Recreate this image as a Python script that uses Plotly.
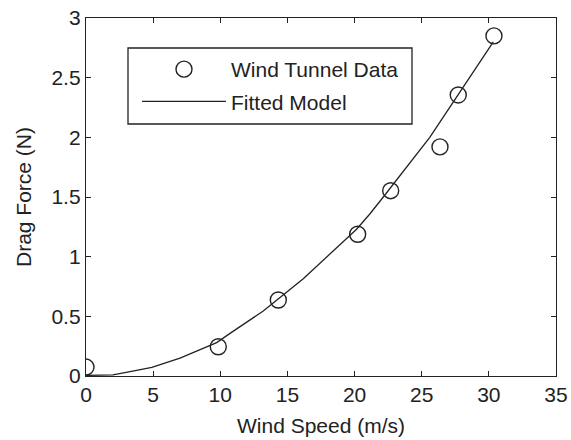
import plotly.graph_objects as go

speed = [0.0, 9.85, 14.32, 20.23, 22.69, 26.36, 27.72, 30.38]
force = [0.075, 0.245, 0.637, 1.188, 1.553, 1.92, 2.355, 2.85]

# Fitted model curve
fit_x = [0.0, 1.0, 2.0, 3.0, 4.9, 7.0, 9.73, 10.7, 13.2, 16.18, 20.15, 21.15, 22.14, 25.6, 27.72, 30.33]
fit_y = [0.005, 0.006, 0.01, 0.03, 0.072, 0.15, 0.28, 0.355, 0.545, 0.815, 1.23, 1.36, 1.50, 2.0, 2.36, 2.80]

x_ticks = [0, 5, 10, 15, 20, 25, 30, 35]
y_ticks = [0, 0.5, 1, 1.5, 2, 2.5, 3]
y_tick_text = ["0", "0.5", "1", "1.5", "2", "2.5", "3"]

ink = "#222222"
font = dict(family="Liberation Sans, Arial, sans-serif", size=21, color=ink)

W, H = 571, 440
ML, MR, MT, MB = 86, 15, 18, 64
PW, PH = W - ML - MR, H - MT - MB


def px_x(p):
    return (p - ML) / PW


def px_y(p):
    return (H - MB - p) / PH


fig = go.Figure()
fig.add_trace(go.Scatter(
    x=speed, y=force, mode="markers", name="Wind Tunnel Data",
    legendgroup="a",
    marker=dict(symbol="circle-open", size=16, color=ink, line=dict(width=1.4, color=ink)),
))
fig.add_trace(go.Scatter(
    x=fit_x, y=fit_y, mode="lines", name="Fitted Model",
    legendgroup="b",
    line=dict(color=ink, width=1.3),
))

axis_common = dict(
    showline=True, linecolor=ink, linewidth=1.3, mirror="ticks",
    ticks="inside", ticklen=5, tickwidth=1, tickcolor=ink,
    showgrid=False, zeroline=False, tickfont=font, automargin=False,
)
fig.update_xaxes(range=[0, 35], tickvals=x_ticks,
                 title=dict(text="Wind Speed (m/s)", font=font, standoff=12), **axis_common)
fig.update_yaxes(range=[0, 3], tickvals=y_ticks, ticktext=y_tick_text,
                 title=dict(text="Drag Force (N)", font=font, standoff=14), **axis_common)

# legend frame
fig.add_shape(type="rect", xref="paper", yref="paper",
              x0=px_x(128), x1=px_x(412), y0=px_y(124), y1=px_y(48),
              line=dict(color=ink, width=1.3), fillcolor="white", layer="above")

fig.update_layout(
    width=W, height=H,
    margin=dict(l=ML, r=MR, t=MT, b=MB),
    paper_bgcolor="white", plot_bgcolor="white",
    font=font, showlegend=True,
    legend=dict(
        x=px_x(137), y=px_y(49), xanchor="left", yanchor="top",
        borderwidth=0, bgcolor="rgba(0,0,0,0)",
        itemwidth=84, font=font, tracegroupgap=2,
    ),
)

fig.write_html("out.html")
